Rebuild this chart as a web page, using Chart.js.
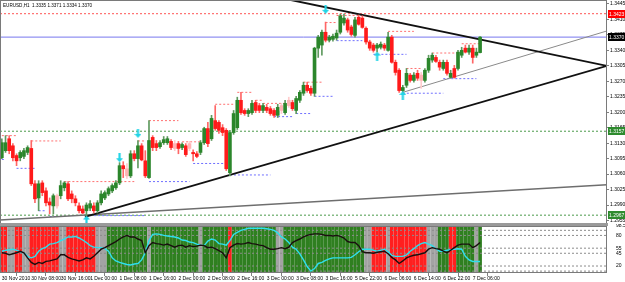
<!DOCTYPE html>
<html>
<head>
<meta charset="utf-8">
<script src="https://cdn.jsdelivr.net/npm/chart.js@4.4.1/dist/chart.umd.min.js"></script>
<style>
html, body { margin: 0; padding: 0; background: #fff; }
#wrap { position: relative; width: 625px; height: 282px; overflow: hidden; }
#mainBox { position: absolute; left: 0; top: 0; width: 625px; height: 224px; }
#indBox { position: absolute; left: 0; top: 224px; width: 625px; height: 58px; }
#sep { position: absolute; left: 0; top: 223px; width: 608px; height: 3px; background: #9a9a9a; }
</style>
</head>
<body>
<div id="wrap">
  <div id="mainBox"><canvas id="mainChart" width="625" height="224"></canvas></div>
  <div id="sep"></div>
  <div id="indBox"><canvas id="indChart" width="625" height="58"></canvas></div>
</div>
<script>
// EURUSD H1, 30 Nov - 7 Dec 2010
const symbolName = 'EURUSD,H1';

const opens = [1.3097,1.3113,1.3140,1.3124,1.3102,1.3097,1.3100,1.3109,1.3118,1.3038,
  1.3006,1.3040,1.3022,1.2997,1.2988,1.3011,1.3011,1.3029,1.3038,1.3015,
  1.3004,1.2988,1.2981,1.2977,1.2983,1.2988,1.2977,1.2995,1.3006,1.3015,
  1.3022,1.3029,1.3040,1.3079,1.3072,1.3056,1.3106,1.3095,1.3124,1.3090,
  1.3052,1.3143,1.3129,1.3122,1.3131,1.3131,1.3134,1.3129,1.3129,1.3120,
  1.3124,1.3129,1.3109,1.3106,1.3109,1.3131,1.3163,1.3140,1.3181,1.3177,
  1.3165,1.3159,1.3063,1.3154,1.3165,1.3227,1.3204,1.3197,1.3199,1.3222,
  1.3215,1.3204,1.3211,1.3208,1.3204,1.3193,1.3215,1.3199,1.3227,1.3222,
  1.3204,1.3227,1.3243,1.3261,1.3254,1.3243,1.3345,1.3352,1.3381,1.3363,
  1.3365,1.3368,1.3381,1.3402,1.3409,1.3393,1.3374,1.3415,1.3413,1.3390,
  1.3359,1.3352,1.3345,1.3347,1.3352,1.3340,1.3370,1.3313,1.3295,1.3249,
  1.3261,1.3284,1.3272,1.3288,1.3284,1.3272,1.3295,1.3318,1.3324,1.3313,
  1.3299,1.3313,1.3279,1.3299,1.3299,1.3329,1.3345,1.3336,1.3345,1.3329,
  1.3335];
const highs = [1.3140,1.3147,1.3147,1.3129,1.3106,1.3113,1.3118,1.3124,1.3136,1.3045,
  1.3045,1.3045,1.3029,1.3006,1.3015,1.3015,1.3045,1.3043,1.3043,1.3022,
  1.3011,1.2995,1.2988,1.2995,1.3000,1.2995,1.3000,1.3022,1.3022,1.3031,
  1.3038,1.3045,1.3086,1.3088,1.3084,1.3113,1.3113,1.3136,1.3129,1.3113,
  1.3181,1.3147,1.3136,1.3136,1.3145,1.3145,1.3138,1.3136,1.3134,1.3131,
  1.3129,1.3134,1.3115,1.3111,1.3136,1.3166,1.3177,1.3193,1.3215,1.3181,
  1.3172,1.3163,1.3159,1.3204,1.3234,1.3245,1.3208,1.3208,1.3227,1.3227,
  1.3220,1.3220,1.3218,1.3213,1.3208,1.3218,1.3220,1.3227,1.3234,1.3227,
  1.3236,1.3249,1.3268,1.3268,1.3259,1.3347,1.3374,1.3386,1.3404,1.3374,
  1.3377,1.3386,1.3422,1.3422,1.3413,1.3397,1.3415,1.3420,1.3418,1.3393,
  1.3363,1.3356,1.3356,1.3359,1.3356,1.3381,1.3374,1.3318,1.3299,1.3261,
  1.3299,1.3288,1.3290,1.3295,1.3290,1.3299,1.3329,1.3334,1.3329,1.3318,
  1.3318,1.3318,1.3295,1.3306,1.3340,1.3347,1.3352,1.3352,1.3352,1.3345,
  1.3371];
const lows = [1.3095,1.3109,1.3106,1.3090,1.3079,1.3090,1.3095,1.3104,1.3034,1.2995,
  1.2977,1.3011,1.2988,1.2970,1.2970,1.2983,1.3004,1.3022,1.3000,1.2995,
  1.2988,1.2972,1.2970,1.2966,1.2977,1.2972,1.2972,1.2990,1.3002,1.3011,
  1.3018,1.3025,1.3036,1.3052,1.3050,1.3052,1.3090,1.3074,1.3090,1.3052,
  1.3050,1.3113,1.3113,1.3118,1.3127,1.3127,1.3115,1.3113,1.3106,1.3115,
  1.3100,1.3113,1.3090,1.3097,1.3104,1.3127,1.3122,1.3136,1.3159,1.3152,
  1.3147,1.3068,1.3056,1.3150,1.3161,1.3195,1.3193,1.3190,1.3195,1.3199,
  1.3199,1.3199,1.3199,1.3193,1.3188,1.3188,1.3197,1.3195,1.3211,1.3204,
  1.3197,1.3222,1.3238,1.3245,1.3238,1.3236,1.3324,1.3329,1.3359,1.3359,
  1.3361,1.3363,1.3377,1.3397,1.3381,1.3372,1.3370,1.3397,1.3390,1.3354,
  1.3340,1.3336,1.3336,1.3343,1.3340,1.3338,1.3311,1.3284,1.3245,1.3243,
  1.3256,1.3268,1.3268,1.3272,1.3254,1.3268,1.3290,1.3313,1.3313,1.3295,
  1.3295,1.3284,1.3277,1.3277,1.3295,1.3324,1.3334,1.3331,1.3311,1.3324,
  1.3334];
const closes = [1.3131,1.3131,1.3113,1.3097,1.3090,1.3109,1.3113,1.3120,1.3038,1.3004,
  1.3038,1.3018,1.2995,1.2990,1.3011,1.2988,1.3034,1.3040,1.3004,1.3004,
  1.2995,1.2977,1.2972,1.2990,1.2993,1.2977,1.2995,1.3015,1.3018,1.3027,
  1.3034,1.3040,1.3079,1.3072,1.3056,1.3106,1.3095,1.3124,1.3092,1.3056,
  1.3136,1.3120,1.3120,1.3131,1.3138,1.3140,1.3120,1.3118,1.3118,1.3127,
  1.3104,1.3118,1.3106,1.3100,1.3131,1.3163,1.3129,1.3186,1.3163,1.3159,
  1.3154,1.3072,1.3154,1.3197,1.3227,1.3199,1.3197,1.3204,1.3220,1.3204,
  1.3204,1.3215,1.3204,1.3197,1.3193,1.3211,1.3204,1.3220,1.3215,1.3208,
  1.3231,1.3245,1.3261,1.3249,1.3243,1.3345,1.3370,1.3381,1.3363,1.3370,
  1.3372,1.3379,1.3418,1.3413,1.3386,1.3376,1.3409,1.3399,1.3392,1.3359,
  1.3345,1.3340,1.3352,1.3354,1.3345,1.3370,1.3313,1.3290,1.3249,1.3256,
  1.3288,1.3272,1.3284,1.3277,1.3272,1.3295,1.3322,1.3329,1.3315,1.3302,
  1.3313,1.3288,1.3288,1.3279,1.3336,1.3340,1.3336,1.3345,1.3324,1.3336,
  1.3370];
// bars drawn pale (inside bars)
const fadedBars = [15, 34, 47, 51, 76, 78, 114];

// dotted resistance / support segments: [first bar, last bar, price]
const resistSegs = [[0,4,1.3147],[8,16,1.3135],[17,36,1.3043],[37,39,1.3135],[40,48,1.3181],
  [49,54,1.3133],[58,63,1.3218],[64,68,1.3245],[69,71,1.3227],[71,78,1.3220],[82,87,1.3268],
  [88,91,1.3403],[91,98,1.3419],[105,112,1.3383],[110,114,1.3299],[117,124,1.3334],[125,130,1.3355]];
const supportSegs = [[0,1,1.3093],[4,9,1.3073],[10,12,1.2977],[13,17,1.2964],[24,39,1.2966],
  [40,51,1.3043],[52,61,1.3084],[62,73,1.3058],[74,79,1.3190],[80,84,1.3197],[85,90,1.3236],
  [91,98,1.3362],[101,110,1.3331],[109,120,1.3243],[120,129,1.3276]];

// trend lines: [bar, price] -> [bar, price]
const triangleTop = [[78.6, 1.3454], [164.5, 1.3305]];
const triangleBottom = [[22.6, 1.2963], [164.5, 1.3305]];
const channelThin = [[109, 1.3245], [164.5, 1.3384]];
const longTrend = [[-0.5, 1.2956], [164.5, 1.3036]];

const redLevel = 1.3423;
const greenLevelHi = 1.3157;
const greenLevelLo = 1.2967;

const arrowsDown = [[32, 1.3097], [37, 1.3152], [88, 1.3433]];
const arrowsUp = [[23, 1.2956], [102, 1.3327], [109, 1.3238]];

const priceTicks = [1.2955,1.2990,1.3025,1.3060,1.3095,1.3130,1.3165,1.3200,1.3235,1.3270,1.3305,1.3340,1.3375,1.3410,1.3445];

const timeLabelBars = [0,8,16,24,32,40,48,56,64,72,80,88,96,104,112,120,128];
const timeLabels = ['30 Nov 2010','30 Nov 08:00','30 Nov 16:00','1 Dec 00:00','1 Dec 08:00','1 Dec 16:00',
  '2 Dec 00:00','2 Dec 08:00','2 Dec 16:00','3 Dec 00:00','3 Dec 08:00','3 Dec 16:00',
  '5 Dec 22:00','6 Dec 06:00','6 Dec 14:00','6 Dec 22:00','7 Dec 06:00'];

// indicator window
const zoneStates = 'rrnnrrnnrrrrrrrrnnrrrrrrrrnnngggggggggg' + 'gnggggggggggggg' + 'ngggggggrgggggggggggg' +
  'nnggggggggggggggggggggggnnrrrrnrrrrrrrrrrnnngggrrgggggngg';
const blackLine = [46,45,42,44,46,49,46,36,27,23, 27,25,29,30,32,34,42,42,37,34,
  32,30,32,36,34,39,46,53,56,60, 64,68,73,77,80,77,77,73,70,46,
  60,66,64,63,61,63,60,57,60,61, 57,60,58,59,61,60,56,57,54,50,
  46,36,56,61,64,63,64,66,64,63, 61,60,56,53,53,54,56,54,57,66,
  70,73,77,80,82,83,83,82,80,80, 79,80,78,75,68,66,66,60,48,46,
  46,45,47,48,49,44,37,32,25,30, 36,39,41,42,44,46,53,56,54,53,
  49,46,51,56,61,63,63,63,56,60, 66];
const cyanLine = [49,51,52,53,51,48,46,39,36,39, 49,54,57,63,64,66,70,73,77,77,
  78,75,71,66,60,57,56,56,54,49, 36,30,27,25,23,22,24,25,32,46,
  70,82,83,82,80,79,78,77,75,71, 70,67,66,63,61,60,69,73,71,64,
  63,61,70,82,86,90,92,94,94,94, 94,94,93,92,90,85,77,73,66,57,
  53,44,32,19,10,15,25,27,31,34, 36,36,36,36,36,37,42,48,53,53,
  53,51,49,51,53,48,41,39,39,39, 42,49,54,60,64,66,63,60,54,49,
  49,51,52,53,54,53,39,32,29,29, 29];
const indLevels = [10, 20, 45, 55, 80, 90];
const indLabelLevels = [20, 45, 55, 80];
const indMin = 6.3;
const indMax = 98.5;

const FONT = 'Liberation Sans';

document.addEventListener('DOMContentLoaded', function() {
    initCharts();
});

function makeArrow(up) {
    const c = document.createElement('canvas');
    c.width = 7; c.height = 9;
    const g = c.getContext('2d');
    g.fillStyle = '#22d4e6';
    g.beginPath();
    if (up) {
        g.moveTo(3.5, 0); g.lineTo(7, 4); g.lineTo(4.6, 4); g.lineTo(4.6, 9);
        g.lineTo(2.4, 9); g.lineTo(2.4, 4); g.lineTo(0, 4);
    } else {
        g.moveTo(2.4, 0); g.lineTo(4.6, 0); g.lineTo(4.6, 5); g.lineTo(7, 5);
        g.lineTo(3.5, 9); g.lineTo(0, 5); g.lineTo(2.4, 5);
    }
    g.closePath();
    g.fill();
    return c;
}

function segData(segs) {
    const out = [];
    segs.forEach(function(s) {
        out.push({x: s[0], y: s[2]}, {x: s[1], y: s[2]}, {x: s[1], y: null});
    });
    return out;
}

function lineData(pts) {
    return pts.map(function(p) { return {x: p[0], y: p[1]}; });
}

function flatLine(v) {
    return [{x: -0.5, y: v}, {x: 164.5, y: v}];
}

// no label overhang padding, so the plot area keeps its exact size
function noPad(scale) {
    scale.paddingTop = 0;
    scale.paddingBottom = 0;
    scale.paddingLeft = 0;
    scale.paddingRight = 0;
}

const framePlugin = {
    id: 'frame',
    afterDraw(chart) {
        const a = chart.chartArea, ctx = chart.ctx;
        ctx.save();
        ctx.strokeStyle = '#7a7a7a';
        ctx.lineWidth = 1;
        ctx.strokeRect(a.left + 0.5, a.top + 0.5, a.width - 1, a.height - 1);
        ctx.restore();
    }
};

function initCharts() {
    const n = closes.length;
    const last = n - 1;
    const bull = closes.map(function(c, i) { return c >= opens[i]; });
    const isFaded = closes.map(function(c, i) { return fadedBars.indexOf(i) >= 0; });

    const bodyColors = bull.map(function(b, i) {
        if (isFaded[i]) return b ? '#a6d3a6' : '#ffb3b3';
        return b ? '#2b862b' : '#ff1a1a';
    });
    const wickColors = bull.map(function(b, i) {
        if (isFaded[i]) return b ? '#c4e2c4' : '#ffcccc';
        return b ? '#5f9a5f' : '#ff6666';
    });

    const wicks = [], bodies = [];
    for (let i = 0; i < n; i++) {
        wicks.push({x: i, y: [lows[i], highs[i]]});
        bodies.push({x: i, y: [opens[i], closes[i]]});
    }

    const boxPlugin = {
        id: 'boxes',
        afterDraw(chart) {
            const ctx = chart.ctx, ys = chart.scales.y, a = chart.chartArea;
            ctx.save();
            ctx.font = '4.6px ' + FONT;
            ctx.fillStyle = '#000';
            ctx.textBaseline = 'middle';
            ctx.fillText(symbolName + '  ' + opens[last].toFixed(4) + ' ' + highs[last].toFixed(4) + ' ' +
                lows[last].toFixed(4) + ' ' + closes[last].toFixed(4), 3, 6);
            const boxes = [[redLevel, '#ff0000', '#ffffff'], [closes[last], '#000000', '#ffffff'],
                [greenLevelHi, '#2e8b2e', '#ffffff'], [greenLevelLo, '#2e8b2e', '#ffffff']];
            ctx.font = '5px ' + FONT;
            boxes.forEach(function(b) {
                const y = Math.round(ys.getPixelForValue(b[0]));
                ctx.fillStyle = b[1];
                ctx.fillRect(a.right + 1, y - 4, 17, 8);
                ctx.fillStyle = b[2];
                ctx.fillText(b[0].toFixed(4), a.right + 2, y + 0.5);
            });
            ctx.restore();
        }
    };

    const mainCtx = document.getElementById('mainChart').getContext('2d');
    new Chart(mainCtx, {
        type: 'bar',
        data: {
            datasets: [
                {type: 'line', data: flatLine(redLevel), borderColor: '#ff5555', borderWidth: 1, borderDash: [2, 2], pointRadius: 0, order: 20},
                {type: 'line', data: flatLine(closes[last]), borderColor: '#7777ee', borderWidth: 1, pointRadius: 0, order: 20},
                {type: 'line', data: flatLine(greenLevelHi), borderColor: '#4a9a4a', borderWidth: 1, borderDash: [2, 2], pointRadius: 0, order: 20},
                {type: 'line', data: flatLine(greenLevelLo), borderColor: '#4a9a4a', borderWidth: 1, borderDash: [2, 2], pointRadius: 0, order: 20},
                {type: 'line', data: segData(resistSegs), borderColor: '#ff7070', borderWidth: 1, borderDash: [2, 2], pointRadius: 0, spanGaps: false, order: 15},
                {type: 'line', data: segData(supportSegs), borderColor: '#6f6fff', borderWidth: 1, borderDash: [2, 2], pointRadius: 0, spanGaps: false, order: 15},
                {type: 'line', data: lineData(longTrend), borderColor: '#6e6e6e', borderWidth: 1.6, pointRadius: 0, order: 12},
                {type: 'line', data: lineData(channelThin), borderColor: '#8a8a8a', borderWidth: 1, pointRadius: 0, order: 12},
                {type: 'line', data: lineData(triangleTop), borderColor: '#111111', borderWidth: 1.8, pointRadius: 0, order: 11},
                {type: 'line', data: lineData(triangleBottom), borderColor: '#111111', borderWidth: 1.8, pointRadius: 0, order: 11},
                {type: 'bar', data: wicks, backgroundColor: wickColors, barThickness: 1, grouped: false, order: 6},
                {type: 'bar', data: bodies, backgroundColor: bodyColors, barThickness: 3, minBarLength: 1, grouped: false, order: 5},
                {type: 'scatter', data: lineData(arrowsDown), pointStyle: makeArrow(false), pointRadius: 4, order: 1},
                {type: 'scatter', data: lineData(arrowsUp), pointStyle: makeArrow(true), pointRadius: 4, order: 1}
            ]
        },
        options: {
            responsive: false,
            animation: false,
            layout: {autoPadding: false, padding: {top: 0, left: 0, right: 0, bottom: 0}},
            plugins: {legend: {display: false}, tooltip: {enabled: false}},
            scales: {
                x: {type: 'linear', min: -0.5, max: 164.5, offset: false, display: false},
                y: {
                    position: 'right',
                    min: 1.2947,
                    max: 1.3454,
                    afterBuildTicks: function(scale) {
                        scale.ticks = priceTicks.map(function(v) { return {value: v}; });
                    },
                    afterFit: function(scale) { scale.width = 18; noPad(scale); },
                    ticks: {
                        autoSkip: false,
                        padding: 1,
                        color: '#000',
                        font: {family: FONT, size: 5},
                        callback: function(v) { return Number(v).toFixed(4); }
                    },
                    grid: {display: true, drawOnChartArea: false, tickLength: 2, color: '#808080'},
                    border: {display: false}
                }
            }
        },
        plugins: [framePlugin, boxPlugin]
    });

    // indicator window
    const zoneColor = {r: '#ff1f1f', g: '#2f7f20', n: '#a3a3a3'};
    const zones = [], zoneColors = [];
    for (let i = 0; i < n; i++) {
        zones.push({x: i, y: [indMin, indMax]});
        zoneColors.push(zoneColor[zoneStates[i]]);
    }
    const levelSets = indLevels.map(function(v) {
        return {type: 'line', data: flatLine(v), borderColor: '#8c8c8c', borderWidth: 1, borderDash: [2, 2], pointRadius: 0, order: 8};
    });

    const indCtx = document.getElementById('indChart').getContext('2d');
    new Chart(indCtx, {
        type: 'bar',
        data: {
            datasets: [
                {type: 'bar', data: zones, backgroundColor: zoneColors, barThickness: 3, grouped: false, order: 10},
                ...levelSets,
                {type: 'line', data: cyanLine.map(function(v, i) { return {x: i, y: v}; }), borderColor: '#2ee0ee', borderWidth: 1.4, pointRadius: 0, order: 2},
                {type: 'line', data: blackLine.map(function(v, i) { return {x: i, y: v}; }), borderColor: '#1a0f0f', borderWidth: 1.4, pointRadius: 0, order: 1}
            ]
        },
        options: {
            responsive: false,
            animation: false,
            layout: {autoPadding: false, padding: {top: 2, left: 0, right: 0, bottom: 0}},
            plugins: {legend: {display: false}, tooltip: {enabled: false}},
            scales: {
                x: {
                    type: 'linear', min: -0.5, max: 164.5, offset: false,
                    afterBuildTicks: function(scale) {
                        scale.ticks = timeLabelBars.map(function(v) { return {value: v}; });
                    },
                    afterFit: function(scale) { noPad(scale); },
                    ticks: {
                        autoSkip: false, maxRotation: 0, align: 'start', padding: 0,
                        color: '#000', font: {family: FONT, size: 5},
                        callback: function(v) { return timeLabels[timeLabelBars.indexOf(v)]; }
                    },
                    grid: {display: true, drawOnChartArea: false, tickLength: 3, color: '#808080'},
                    border: {display: false}
                },
                y: {
                    position: 'right',
                    min: indMin,
                    max: indMax,
                    afterBuildTicks: function(scale) {
                        scale.ticks = indLabelLevels.concat([indMax]).map(function(v) { return {value: v}; });
                    },
                    afterFit: function(scale) { scale.width = 18; noPad(scale); },
                    ticks: {
                        autoSkip: false, padding: 1, color: '#000', font: {family: FONT, size: 5},
                        callback: function(v) { return v === indMax ? Number(v).toFixed(2) : String(v); }
                    },
                    grid: {display: false},
                    border: {display: false}
                }
            }
        },
        plugins: [framePlugin]
    });
}
</script>
</body>
</html>
